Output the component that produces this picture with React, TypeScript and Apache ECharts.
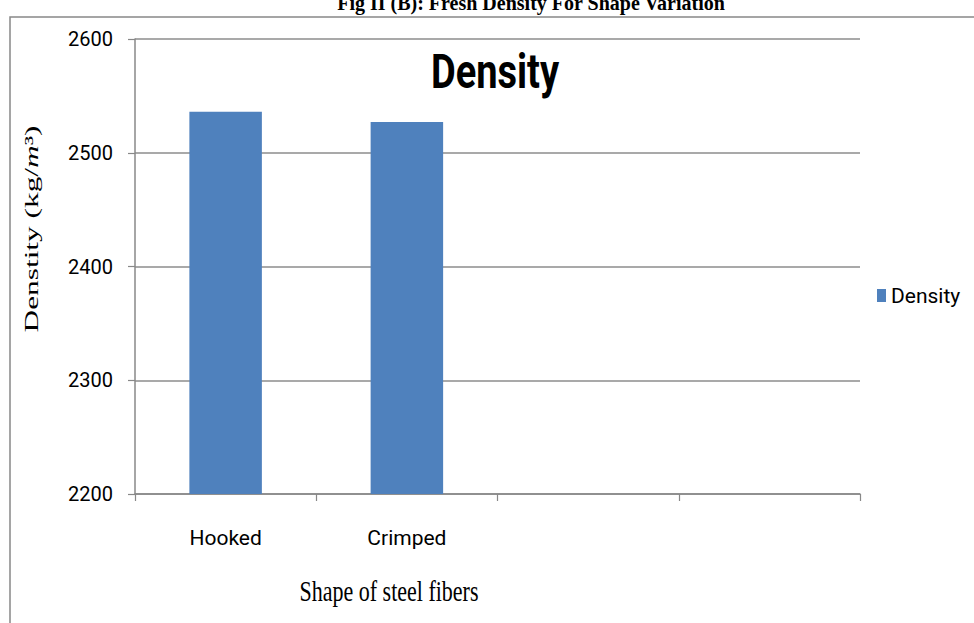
import React, { useEffect, useRef } from "react";
import * as echarts from "echarts";

// Fresh density of concrete for each steel-fibre shape
const categories = ["Hooked", "Crimped", "", ""];
const densityValues: (number | null)[] = [2536, 2527, null, null];
const yTicks = { min: 2200, max: 2600, interval: 100 };

const sans = 'Roboto, "Liberation Sans", sans-serif';
const serif = '"Liberation Serif", "DejaVu Serif", serif';

export default function App() {
  const ref = useRef<HTMLDivElement>(null);

  useEffect(() => {
    document.body.style.margin = "0";
    if (!ref.current) return;
    const chart = echarts.init(ref.current, undefined, { renderer: "svg" });
    chart.setOption({
      animation: false,
      backgroundColor: "#ffffff",
      grid: { left: 135, right: 114, top: 39, bottom: 129 },
      legend: {
        data: ["Density"],
        left: 872,
        top: 280,
        icon: "rect",
        itemWidth: 9,
        itemHeight: 13,
        itemGap: 4,
        textStyle: { fontFamily: sans, fontSize: 21, color: "#000" },
      },
      xAxis: {
        type: "category",
        data: categories,
        axisLine: { show: true, lineStyle: { color: "#888", width: 1.5 } },
        axisTick: { show: true, alignWithLabel: false, length: 7, lineStyle: { color: "#888", width: 1.2 } },
        axisLabel: { margin: 33, fontFamily: sans, fontSize: 21, color: "#000" },
      },
      yAxis: {
        type: "value",
        min: yTicks.min,
        max: yTicks.max,
        interval: yTicks.interval,
        axisLine: { show: true, lineStyle: { color: "#888", width: 1.5 } },
        axisTick: { show: true, length: 7, lineStyle: { color: "#888", width: 1.2 } },
        axisLabel: {
          margin: 22,
          fontFamily: sans,
          fontSize: 20,
          color: "#000",
          formatter: (v: number) => String(v),
        },
        splitLine: { show: true, lineStyle: { color: "#8c8c8c", width: 1.6 } },
      },
      series: [
        {
          name: "Density",
          type: "bar",
          data: densityValues,
          barWidth: "40%",
          itemStyle: { color: "#4F81BD" },
        },
      ],
      graphic: [
        {
          type: "rect",
          silent: true,
          shape: { x: 10, y: 17, width: 1000, height: 700 },
          style: { fill: "none", stroke: "#888", lineWidth: 1.5 },
          z: -10,
        },
        {
          type: "text",
          x: 531,
          y: 13,
          style: {
            text: "Fig II (B): Fresh Density For Shape Variation",
            font: `bold 20px ${serif}`,
            fill: "#000",
            align: "center",
            verticalAlign: "bottom",
          },
        },
        {
          type: "text",
          x: 495,
          y: 72,
          scaleY: 1.25,
          style: {
            text: "Density",
            font: `bold 38px ${sans}`,
            fill: "#000",
            align: "center",
            verticalAlign: "middle",
          },
        },
        {
          type: "text",
          x: 32,
          y: 229,
          rotation: Math.PI / 2,
          scaleX: 1.65,
          style: {
            text: "{a|Denstity (kg/}{i|m}{a|³)}",
            rich: {
              a: { fontFamily: serif, fontSize: 19, fill: "#000" },
              i: { fontFamily: serif, fontSize: 19, fontStyle: "italic", fill: "#000" },
            },
            align: "center",
            verticalAlign: "middle",
          },
        },
        {
          type: "text",
          x: 389,
          y: 591,
          scaleY: 1.35,
          style: {
            text: "Shape of steel fibers",
            font: `22px ${serif}`,
            fill: "#000",
            align: "center",
            verticalAlign: "middle",
          },
        },
      ],
    });
    return () => chart.dispose();
  }, []);

  return <div ref={ref} style={{ width: 974, height: 623 }} />;
}
